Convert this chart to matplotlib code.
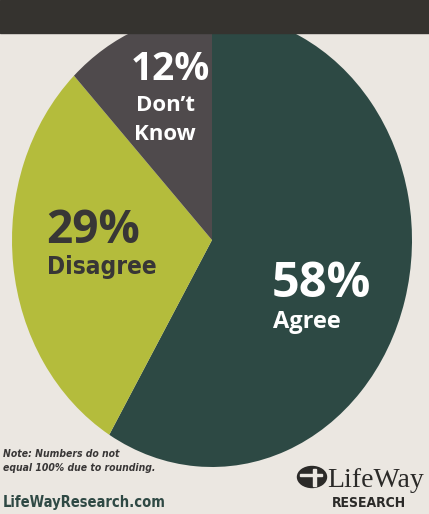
import matplotlib.pyplot as plt
from matplotlib.patches import Rectangle, Ellipse

# sizes of the picture in pixels
W, H = 429, 514

# data
categories = ["Agree", "Disagree", "Don’t\nKnow"]
values = [58, 29, 12]          # does not sum to 100 (rounding)
pct_labels = ["58%", "29%", "12%"]
colors = ["#2d4944", "#b4bc3c", "#4f4a4c"]

note = ["Note: Numbers do not", "equal 100% due to rounding."]
source = "LifeWayResearch.com"

paper = "#ebe7e1"
dark = "#383636"


def P(x, y):
    # pixel position (from top left) -> figure fraction
    return x / W, 1 - y / H


fig = plt.figure(figsize=(W / 100, H / 100), dpi=100)
fig.patch.set_facecolor(paper)

# pie (slightly taller than wide, like the scan)
ax = fig.add_axes([12 / W, 47 / H, 400 / W, 454 / H])
ax.pie(values, colors=colors, startangle=90, counterclock=False,
       wedgeprops=dict(linewidth=0))
ax.set_aspect("auto")
ax.set_xlim(-1, 1)
ax.set_ylim(-1, 1)
ax.axis("off")

# dark header band over the top of the pie
fig.add_artist(Rectangle(P(0, 33), 1, 33 / H, transform=fig.transFigure,
                         color="#35332f", zorder=5))

sans = ["Open Sans", "DejaVu Sans"]
cond = ["DejaVu Sans"]

# labels in the slices
fig.text(*P(272, 297), pct_labels[0], color="white", fontsize=35,
         fontweight="bold", family=sans, ha="left", va="baseline")
fig.text(*P(273, 328), categories[0], color="white", fontsize=17,
         fontweight="bold", family=sans, ha="left", va="baseline")

fig.text(*P(46, 243), pct_labels[1], color=dark, fontsize=33,
         fontweight="bold", family=sans, ha="left", va="baseline")
fig.text(*P(47, 274), categories[1], color=dark, fontsize=17.5,
         fontweight="bold", family=cond, fontstretch="condensed",
         ha="left", va="baseline")

fig.text(*P(170, 80), pct_labels[2], color="white", fontsize=28,
         fontweight="bold", family=sans, ha="center", va="baseline")
k1, k2 = categories[2].split("\n")
fig.text(*P(165, 111), k1, color="white", fontsize=16,
         fontweight="bold", family=sans, ha="center", va="baseline")
fig.text(*P(165, 140), k2, color="white", fontsize=16,
         fontweight="bold", family=sans, ha="center", va="baseline")

# note and source
for line, yb in zip(note, [457, 471]):
    fig.text(*P(3, yb), line, color=dark, fontsize=7.5, fontweight="bold",
             style="italic", family=cond, fontstretch="condensed",
             ha="left", va="baseline")
fig.text(*P(3, 507), source, color="#2f4944", fontsize=10.5,
         fontweight="bold", family=cond, fontstretch="condensed",
         ha="left", va="baseline")

# LifeWay logo
fig.add_artist(Ellipse(P(312, 477), 29 / W, 21 / H, transform=fig.transFigure,
                       color="#2b2a28", zorder=3))
fig.add_artist(Rectangle(P(300, 476), 22 / W, 2.5 / H, transform=fig.transFigure,
                         color=paper, zorder=4))
fig.add_artist(Rectangle(P(313, 486), 2.5 / W, 17 / H, transform=fig.transFigure,
                         color=paper, zorder=4))
fig.text(*P(327, 487), "LifeWay", color="#2b2a28", fontsize=20,
         family=["Liberation Serif", "DejaVu Serif"], ha="left", va="baseline")
fig.text(*P(332, 507), "RESEARCH", color="#2b2a28", fontsize=10,
         fontweight="bold", family=cond, fontstretch="condensed",
         ha="left", va="baseline")

fig.savefig("out.png", dpi=100, facecolor=paper)
